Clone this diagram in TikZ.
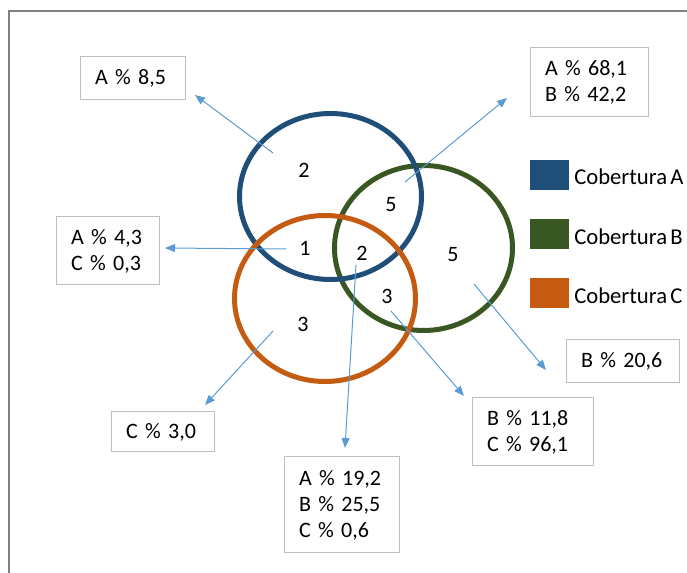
\documentclass[tikz,border=0pt]{standalone}
\usepackage{fontspec}
\setmainfont{Carlito}[WordSpace=0.6]
\usetikzlibrary{arrows.meta}
\definecolor{covA}{HTML}{1F4E79}
\definecolor{covB}{HTML}{385723}
\definecolor{covC}{HTML}{C55A11}
\definecolor{ptrblue}{HTML}{5B9BD5}
\definecolor{boxgray}{HTML}{BFBFBF}
\definecolor{framegray}{HTML}{808080}
\newcommand{\vfont}{\fontsize{16.5}{19.5}\selectfont}
\newcommand{\keyfont}{\fontsize{17}{20}\selectfont}
\tikzset{
  valbox/.style={draw=boxgray, line width=0.75pt, inner xsep=11.25pt, inner ysep=0pt, align=left, font=\vfont},
  pointer/.style={ptrblue, line width=0.75pt, -{Triangle[length=7.5pt,width=6pt]}},
  ring/.style={line width=3.75pt},
  keybox/.style={minimum width=29.25pt, minimum height=22.5pt, inner sep=0pt},
  num/.style={inner sep=0pt, font=\vfont},
}

\begin{document}
\begin{tikzpicture}[x=0.75pt, y=-0.75pt]
   \useasboundingbox (0,0) rectangle (687,573);
   % outer frame
   \draw[framegray, line width=1.5pt] (9,580) -- (9,11) -- (700,11);

   % the three coverages
   \draw[ring, covB] (423.5,248) ellipse [x radius=66.75pt, y radius=61.875pt];
   \draw[ring, covA] (330.5,196.5) ellipse [x radius=68.25pt, y radius=62.25pt];
   \draw[ring, covC] (325,298.5) ellipse [x radius=67.875pt, y radius=62.25pt];

   % counts
   \node[num] (nA)   at (304,170) {2};
   \node[num] (nAB)  at (391,205) {5};
   \node[num] (nAC)  at (305,248) {1};
   \node[num] (nABC) at (362,253) {2};
   \node[num] (nB)   at (453,255) {5};
   \node[num] (nBC)  at (387,296) {3};
   \node[num] (nC)   at (303,324) {3};

   % percentages
   \node[valbox, text width=56.25pt, minimum height=32.25pt] (pA)   at (132.5,78.5) {A \% 8,5};
   \node[valbox, text width=54.75pt, minimum height=51pt]    (pAC)  at (107.5,251)  {A \% 4,3\\C \% 0,3};
   \node[valbox, text width=66pt,    minimum height=51.75pt] (pAB)  at (589,82.5)   {A \% 68,1\\B \% 42,2};
   \node[valbox, text width=62.25pt, minimum height=32.25pt] (pB)   at (622.5,361.5) {B \% 20,6};
   \node[valbox, text width=54.75pt, minimum height=30pt]    (pC)   at (162.5,432)  {C \% 3,0};
   \node[valbox, text width=68.25pt, minimum height=51pt]    (pBC)  at (532.5,432)  {B \% 11,8\\C \% 96,1};
   \node[valbox, text width=63.75pt, minimum height=72pt]    (pABC) at (341.5,505)  {A \% 19,2\\B \% 25,5\\C \% 0,6};

   % pointer ends
   \coordinate (sA)   at (273,153);  \coordinate (tA)   at (195,95);
   \coordinate (sAC)  at (286,249);  \coordinate (tAC)  at (165,248);
   \coordinate (sAB)  at (405,182);  \coordinate (tAB)  at (507,98);
   \coordinate (sABC) at (356,265);  \coordinate (tABC) at (345,448);
   \coordinate (sC)   at (273,331);  \coordinate (tC)   at (205,405);
   \coordinate (sBC)  at (391,311);  \coordinate (tBC)  at (464,396);
   \coordinate (sB)   at (474,284);  \coordinate (tB)   at (546,370);
   \foreach \r in {A,AC,AB,ABC,C,BC,B}
      \draw[pointer] (s\r) -- (t\r);

   % legend
   \node[keybox, fill=covA] (kA) at (549.5,175)   {};
   \node[keybox, fill=covB] (kB) at (549.5,234.5) {};
   \node[keybox, fill=covC] (kC) at (549.5,293.5) {};
   \node[inner sep=0pt, font=\keyfont, anchor=base west] (lA) at (574,185)   {Cobertura A};
   \node[inner sep=0pt, font=\keyfont, anchor=base west] (lB) at (574,244.5) {Cobertura B};
   \node[inner sep=0pt, font=\keyfont, anchor=base west] (lC) at (574,303.5) {Cobertura C};
\end{tikzpicture}
\end{document}
